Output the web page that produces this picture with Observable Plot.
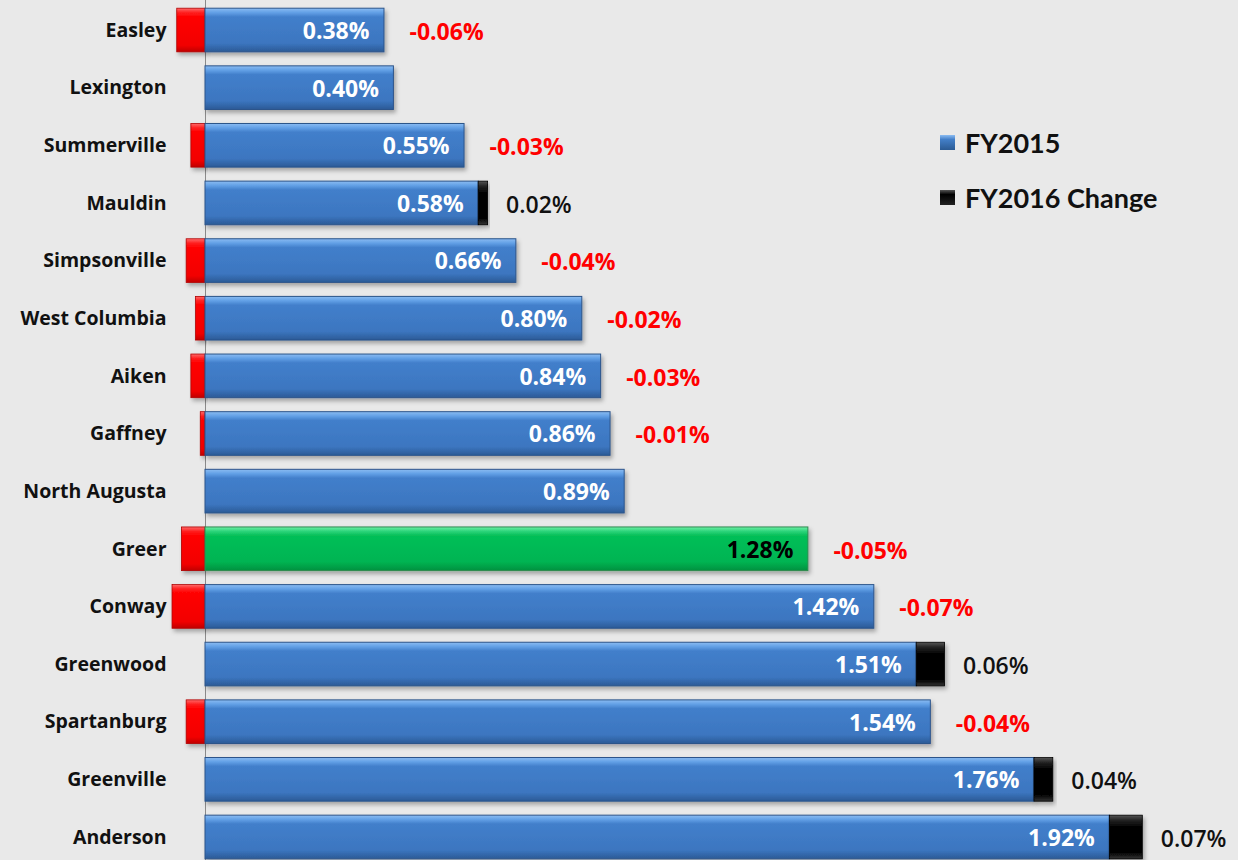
<!DOCTYPE html>
<html>
<head>
<meta charset="utf-8">
<script src="https://cdn.jsdelivr.net/npm/d3@7"></script>
<script src="https://cdn.jsdelivr.net/npm/@observablehq/plot@0.6"></script>
<style>
  html, body { margin: 0; padding: 0; background: #e9e9e9; }
  #wrap { position: relative; width: 1238px; height: 860px; overflow: hidden;
    background: #e9e9e9; font-family: "Open Sans", Lato, sans-serif; }
  #legend { position: absolute; left: 940px; top: 115px; }
  .li { display: flex; align-items: center; height: 55px; font-size: 27px; font-weight: 700; color: #111; font-family: Lato, sans-serif; }
  .sw { width: 15px; height: 15px; margin-right: 10px; box-sizing: border-box; }
</style>
</head>
<body>
<div id="wrap"></div>
<script>
const cities = ["Easley","Lexington","Summerville","Mauldin","Simpsonville","West Columbia","Aiken","Gaffney","North Augusta","Greer","Conway","Greenwood","Spartanburg","Greenville","Anderson"];
const fy2015 = [0.38,0.40,0.55,0.58,0.66,0.80,0.84,0.86,0.89,1.28,1.42,1.51,1.54,1.76,1.92];
const fy2016Change = [-0.06,0,-0.03,0.02,-0.04,-0.02,-0.03,-0.01,0,-0.05,-0.07,0.06,-0.04,0.04,0.07];
const highlight = "Greer";
const legendLabels = ["FY2015","FY2016 Change"];

const data = cities.map((c, i) => ({city: c, fy: fy2015[i], change: fy2016Change[i]}));
const fmt = v => v.toFixed(2) + "%";
const inset = 7;

const chart = Plot.plot({
  width: 1238,
  height: 860,
  marginLeft: 205,
  marginRight: 0,
  marginTop: 0,
  marginBottom: 0,
  style: {background: "transparent", fontFamily: "'Open Sans', Lato, sans-serif"},
  x: {domain: [0, 2], range: [205, 1147], axis: null},
  y: {domain: cities, range: [1.2, 865.8], padding: 0, round: false, axis: null},
  marks: [
    Plot.ruleX([0], {stroke: "#8a8a8a", strokeWidth: 1}),
    Plot.barX(data.filter(d => d.change < 0), {x1: "change", x2: 0, y: "city", insetTop: inset, insetBottom: inset, fill: "url(#gRed)", stroke: "#b00000", strokeWidth: 0.8}),
    Plot.barX(data.filter(d => d.city !== highlight), {x1: 0, x2: "fy", y: "city", insetTop: inset, insetBottom: inset, fill: "url(#gBlue)", stroke: "#2c548a", strokeWidth: 1}),
    Plot.barX(data.filter(d => d.city === highlight), {x1: 0, x2: "fy", y: "city", insetTop: inset, insetBottom: inset, fill: "url(#gGreen)", stroke: "#2f8a4f", strokeWidth: 1}),
    Plot.barX(data.filter(d => d.change > 0), {x1: "fy", x2: d => d.fy + d.change, y: "city", insetTop: inset, insetBottom: inset, fill: "url(#gBlack)", stroke: "#000", strokeWidth: 0.8}),
    Plot.axisY({tickSize: 0, tickPadding: 39, fontSize: 19.5, fontWeight: 700, fill: "#111", label: null}),
    Plot.text(data, {x: "fy", y: "city", text: d => fmt(d.fy), textAnchor: "end", dx: -15, dy: 1,
      fill: d => d.city === highlight ? "#000" : "#fff", fontSize: 23, fontWeight: 700, letterSpacing: 0.5}),
    Plot.text(data.filter(d => d.change < 0), {x: "fy", y: "city",
      text: d => fmt(d.change), textAnchor: "start", dx: 25, dy: 2,
      fill: "#ff0000", fontSize: 23, fontWeight: 700}),
    Plot.text(data.filter(d => d.change > 0), {x: d => d.fy + d.change, y: "city",
      text: d => fmt(d.change), textAnchor: "start", dx: 18, dy: 2,
      fill: "#111", fontSize: 23, fontWeight: 600})
  ]
});

// gradients and shadow
const svg = d3.select(chart);
const defs = svg.insert("defs", ":first-child");
function grad(id, stops) {
  const g = defs.append("linearGradient").attr("id", id).attr("x1", 0).attr("y1", 0).attr("x2", 0).attr("y2", 1);
  stops.forEach(([o, c]) => g.append("stop").attr("offset", o).attr("stop-color", c));
}
grad("gBlue", [[0, "#8bbcf2"], [0.1, "#62a0e6"], [0.2, "#427fcb"], [0.8, "#3c76c0"], [1, "#2b5a96"]]);
grad("gGreen", [[0, "#6ff0a6"], [0.1, "#2dd47a"], [0.2, "#06bf58"], [0.8, "#02b452"], [1, "#04913f"]]);
grad("gRed", [[0, "#ff6a6a"], [0.1, "#ff2020"], [0.2, "#ff0000"], [0.85, "#f20000"], [1, "#c00000"]]);
grad("gBlack", [[0, "#555"], [0.12, "#222"], [0.25, "#050505"], [0.85, "#000"], [1, "#333"]]);
const f = defs.append("filter").attr("id", "shadow").attr("x", "-10%").attr("y", "-20%").attr("width", "130%").attr("height", "160%");
f.append("feDropShadow").attr("dx", 2).attr("dy", 3).attr("stdDeviation", 2).attr("flood-color", "#000").attr("flood-opacity", 0.3);
svg.selectAll("g[aria-label='bar'] rect").attr("filter", "url(#shadow)");

const wrap = document.getElementById("wrap");
wrap.appendChild(chart);

const legend = document.createElement("div");
legend.id = "legend";
const swatches = ["linear-gradient(#8bbcf2, #437fc8 30%, #2b5a93)", "linear-gradient(#555, #000 30%, #222)"];
legendLabels.forEach((lab, i) => {
  const row = document.createElement("div");
  row.className = "li";
  const sw = document.createElement("div");
  sw.className = "sw";
  sw.style.background = swatches[i];
  const t = document.createElement("span");
  t.textContent = lab;
  row.appendChild(sw); row.appendChild(t);
  legend.appendChild(row);
});
wrap.appendChild(legend);
</script>
</body>
</html>
